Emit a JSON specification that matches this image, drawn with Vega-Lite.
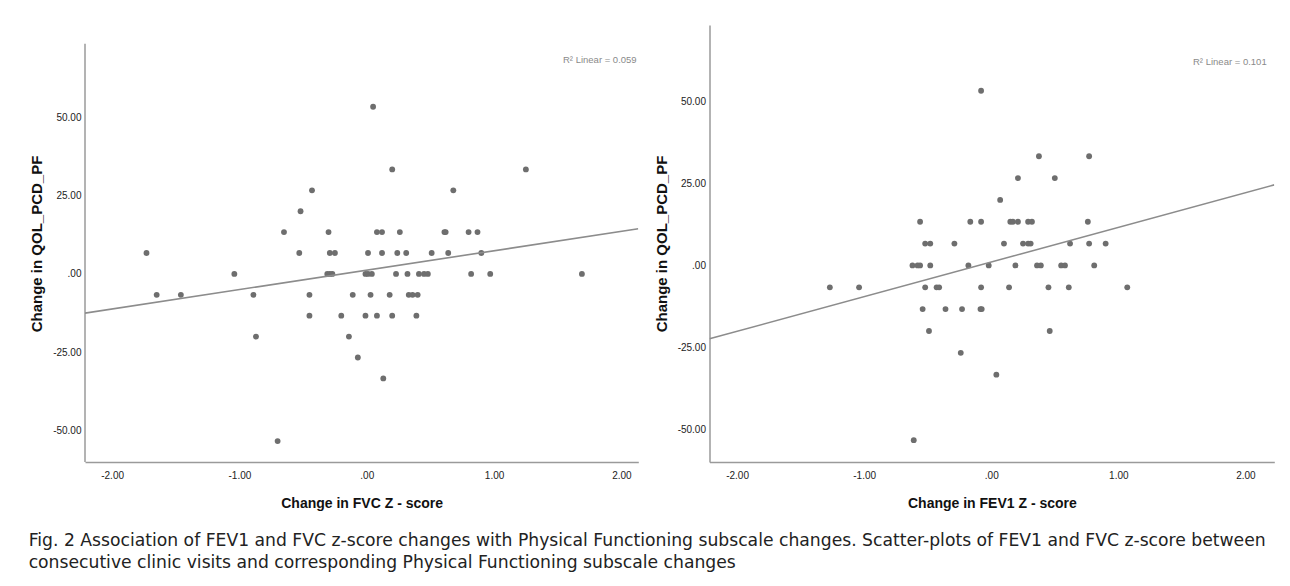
{
  "$schema": "https://vega.github.io/schema/vega-lite/v6.json",
  "background": "white",
  "padding": {"left": 28, "top": 25, "right": 10, "bottom": 4},
  "datasets": {
    "fvc": [
      {"x": 0.05, "y": 53.33},
      {"x": 0.20, "y": 33.33}, {"x": 1.25, "y": 33.33},
      {"x": -0.43, "y": 26.67}, {"x": 0.68, "y": 26.67},
      {"x": -0.52, "y": 20},
      {"x": -0.65, "y": 13.33}, {"x": -0.30, "y": 13.33}, {"x": 0.08, "y": 13.33}, {"x": 0.12, "y": 13.33}, {"x": 0.26, "y": 13.33}, {"x": 0.61, "y": 13.33}, {"x": 0.62, "y": 13.33}, {"x": 0.80, "y": 13.33}, {"x": 0.87, "y": 13.33},
      {"x": -1.73, "y": 6.67}, {"x": -0.53, "y": 6.67}, {"x": -0.29, "y": 6.67}, {"x": -0.25, "y": 6.67}, {"x": 0.01, "y": 6.67}, {"x": 0.12, "y": 6.67}, {"x": 0.24, "y": 6.67}, {"x": 0.31, "y": 6.67}, {"x": 0.51, "y": 6.67}, {"x": 0.64, "y": 6.67}, {"x": 0.90, "y": 6.67},
      {"x": -1.04, "y": 0}, {"x": -0.31, "y": 0}, {"x": -0.29, "y": 0}, {"x": -0.27, "y": 0}, {"x": -0.01, "y": 0}, {"x": 0.01, "y": 0}, {"x": 0.04, "y": 0}, {"x": 0.23, "y": 0}, {"x": 0.32, "y": 0}, {"x": 0.41, "y": 0}, {"x": 0.45, "y": 0}, {"x": 0.48, "y": 0}, {"x": 0.82, "y": 0}, {"x": 0.97, "y": 0}, {"x": 1.69, "y": 0},
      {"x": -1.65, "y": -6.67}, {"x": -1.46, "y": -6.67}, {"x": -0.89, "y": -6.67}, {"x": -0.45, "y": -6.67}, {"x": -0.11, "y": -6.67}, {"x": 0.03, "y": -6.67}, {"x": 0.18, "y": -6.67}, {"x": 0.33, "y": -6.67}, {"x": 0.36, "y": -6.67}, {"x": 0.40, "y": -6.67},
      {"x": -0.45, "y": -13.33}, {"x": -0.20, "y": -13.33}, {"x": -0.01, "y": -13.33}, {"x": 0.08, "y": -13.33}, {"x": 0.20, "y": -13.33}, {"x": 0.39, "y": -13.33},
      {"x": -0.87, "y": -20}, {"x": -0.14, "y": -20},
      {"x": -0.07, "y": -26.67},
      {"x": 0.13, "y": -33.33},
      {"x": -0.70, "y": -53.33}
    ],
    "fev1": [
      {"x": -0.08, "y": 53.33},
      {"x": 0.375, "y": 33.33}, {"x": 0.77, "y": 33.33},
      {"x": 0.21, "y": 26.67}, {"x": 0.50, "y": 26.67},
      {"x": 0.07, "y": 20},
      {"x": -0.56, "y": 13.33}, {"x": -0.165, "y": 13.33}, {"x": -0.08, "y": 13.33}, {"x": 0.15, "y": 13.33}, {"x": 0.17, "y": 13.33}, {"x": 0.21, "y": 13.33}, {"x": 0.29, "y": 13.33}, {"x": 0.32, "y": 13.33}, {"x": 0.76, "y": 13.33},
      {"x": -0.52, "y": 6.67}, {"x": -0.48, "y": 6.67}, {"x": -0.29, "y": 6.67}, {"x": 0.10, "y": 6.67}, {"x": 0.25, "y": 6.67}, {"x": 0.29, "y": 6.67}, {"x": 0.31, "y": 6.67}, {"x": 0.62, "y": 6.67}, {"x": 0.77, "y": 6.67}, {"x": 0.90, "y": 6.67},
      {"x": -0.62, "y": 0}, {"x": -0.58, "y": 0}, {"x": -0.56, "y": 0}, {"x": -0.48, "y": 0}, {"x": -0.18, "y": 0}, {"x": -0.02, "y": 0}, {"x": 0.19, "y": 0}, {"x": 0.36, "y": 0}, {"x": 0.39, "y": 0}, {"x": 0.55, "y": 0}, {"x": 0.58, "y": 0}, {"x": 0.81, "y": 0},
      {"x": -1.27, "y": -6.67}, {"x": -1.04, "y": -6.67}, {"x": -0.52, "y": -6.67}, {"x": -0.43, "y": -6.67}, {"x": -0.41, "y": -6.67}, {"x": -0.08, "y": -6.67}, {"x": 0.14, "y": -6.67}, {"x": 0.45, "y": -6.67}, {"x": 0.61, "y": -6.67}, {"x": 1.07, "y": -6.67},
      {"x": -0.54, "y": -13.33}, {"x": -0.36, "y": -13.33}, {"x": -0.23, "y": -13.33}, {"x": -0.085, "y": -13.33}, {"x": -0.075, "y": -13.33},
      {"x": -0.49, "y": -20}, {"x": 0.46, "y": -20},
      {"x": -0.24, "y": -26.67},
      {"x": 0.04, "y": -33.33},
      {"x": -0.61, "y": -53.33}
    ],
    "fit_fvc": [{"x": -2.213, "y": -12.5}, {"x": 2.133, "y": 14.4}],
    "fit_fev1": [{"x": -2.217, "y": -22.4}, {"x": 2.227, "y": 24.6}],
    "axis_fvc": [{"x": -2.213, "y": -60, "y2": 73.4}],
    "r2_fvc": [{"x": 2.12, "y": 68.1, "label": "R² Linear = 0.059"}],
    "r2_fev1": [{"x": 2.167, "y": 62.1, "label": "R² Linear = 0.101"}]
  },
  "title": {
    "text": ["Fig. 2 Association of FEV1 and FVC z-score changes with Physical Functioning subscale changes. Scatter-plots of FEV1 and FVC z-score between", "consecutive clinic visits and corresponding Physical Functioning subscale changes"],
    "orient": "bottom",
    "anchor": "start",
    "frame": "bounds",
    "font": "DejaVu Sans",
    "fontSize": 17.2,
    "fontWeight": "normal",
    "lineHeight": 21.7,
    "offset": 22,
    "color": "#222222",
    "dx": -1
  },
  "spacing": 14.5,
  "hconcat": [
    {
      "width": 553.3,
      "height": 437,
      "encoding": {
        "x": {"field": "x", "type": "quantitative", "scale": {"domain": [-2.213, 2.133], "nice": false, "zero": false},
              "axis": {"title": "Change in FVC Z - score", "values": [-2, -1, 0, 1, 2], "labelExpr": "datum.value == 0 ? '.00' : (datum.value < 0 ? '-' : '') + format(abs(datum.value), '.2f')"}},
        "y": {"field": "y", "type": "quantitative", "scale": {"domain": [-60, 79.4], "nice": false, "zero": false},
              "axis": {"title": "Change in QOL_PCD_PF", "domain": false, "values": [-50, -25, 0, 25, 50], "labelExpr": "datum.value == 0 ? '.00' : (datum.value < 0 ? '-' : '') + format(abs(datum.value), '.2f')"}}
      },
      "layer": [
        {"data": {"name": "axis_fvc"}, "mark": {"type": "rule", "color": "#9a9a9a", "strokeWidth": 1.5}, "encoding": {"y2": {"field": "y2"}}},
        {"data": {"name": "fvc"}, "mark": {"type": "circle", "size": 34, "color": "#6e6e6e", "opacity": 1}},
        {"data": {"name": "fit_fvc"}, "mark": {"type": "line", "color": "#8c8c8c", "strokeWidth": 1.6, "clip": true}},
        {"data": {"name": "r2_fvc"}, "mark": {"type": "text", "align": "right", "baseline": "middle", "font": "Liberation Sans", "fontSize": 9.5, "color": "#8a8a8a"}, "encoding": {"text": {"field": "label"}}}
      ]
    },
    {
      "width": 564.8,
      "height": 437,
      "encoding": {
        "x": {"field": "x", "type": "quantitative", "scale": {"domain": [-2.217, 2.227], "nice": false, "zero": false},
              "axis": {"title": "Change in FEV1 Z - score", "values": [-2, -1, 0, 1, 2], "labelExpr": "datum.value == 0 ? '.00' : (datum.value < 0 ? '-' : '') + format(abs(datum.value), '.2f')"}},
        "y": {"field": "y", "type": "quantitative", "scale": {"domain": [-60, 73.4], "nice": false, "zero": false},
              "axis": {"title": "Change in QOL_PCD_PF", "values": [-50, -25, 0, 25, 50], "labelExpr": "datum.value == 0 ? '.00' : (datum.value < 0 ? '-' : '') + format(abs(datum.value), '.2f')"}}
      },
      "layer": [
        {"data": {"name": "fev1"}, "mark": {"type": "circle", "size": 34, "color": "#6e6e6e", "opacity": 1}},
        {"data": {"name": "fit_fev1"}, "mark": {"type": "line", "color": "#8c8c8c", "strokeWidth": 1.6, "clip": true}},
        {"data": {"name": "r2_fev1"}, "mark": {"type": "text", "align": "right", "baseline": "middle", "font": "Liberation Sans", "fontSize": 9.5, "color": "#8a8a8a"}, "encoding": {"text": {"field": "label"}}}
      ]
    }
  ],
  "config": {
    "view": {"stroke": null},
    "axis": {"grid": false, "ticks": false, "tickSize": 0, "domainColor": "#9a9a9a", "domainWidth": 1.5,
             "labelFont": "Liberation Sans", "labelFontSize": 10, "labelColor": "#222222",
             "titleFont": "Liberation Sans", "titleFontWeight": "bold", "titleColor": "#111111"},
    "axisX": {"labelPadding": 8, "titleFontSize": 14, "titlePadding": 16},
    "axisY": {"labelPadding": 4, "titleFontSize": 15, "titlePadding": 8}
  }
}
